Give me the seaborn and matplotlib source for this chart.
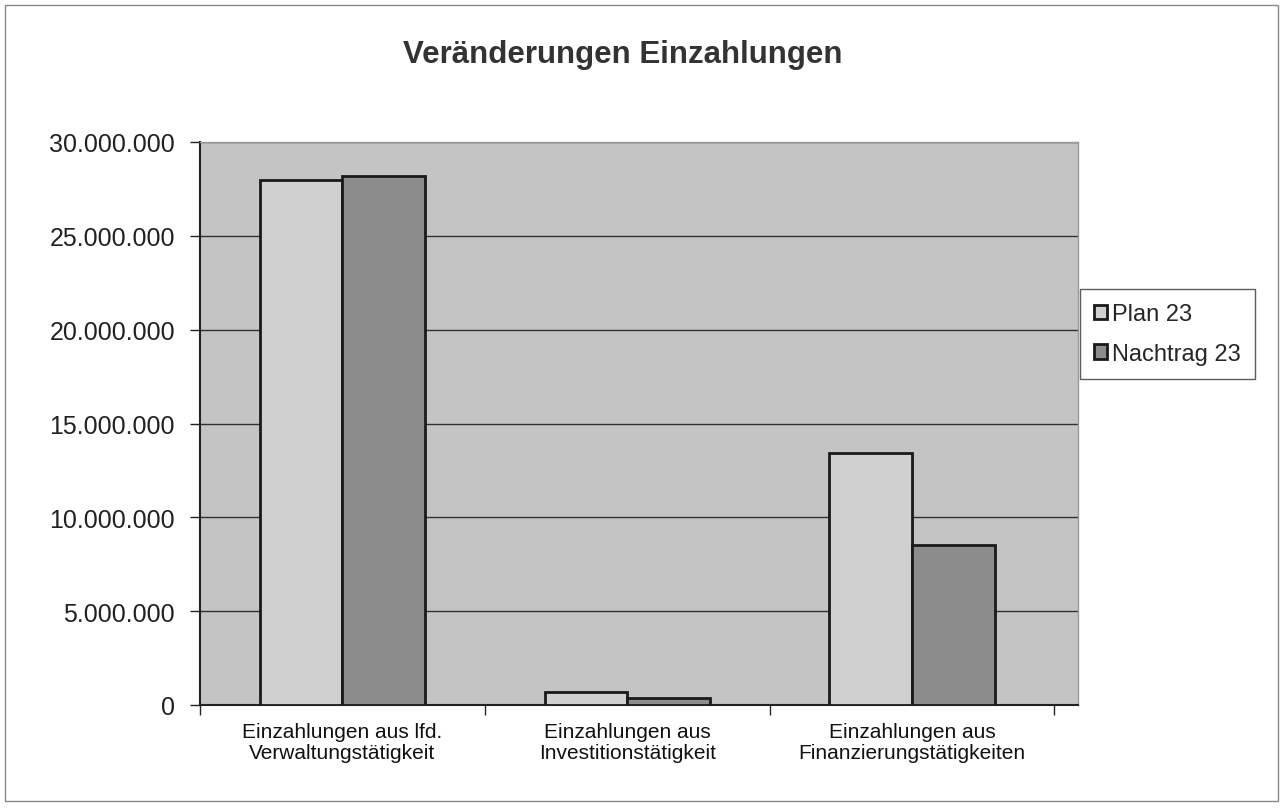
import pandas as pd
import matplotlib.pyplot as plt
import seaborn as sns
from matplotlib.ticker import FuncFormatter, FixedLocator

CATEGORIES = ["Einzahlungen aus lfd.\nVerwaltungstätigkeit",
              "Einzahlungen aus\nInvestitionstätigkeit",
              "Einzahlungen aus\nFinanzierungstätigkeiten"]
SERIES = ["Plan 23", "Nachtrag 23"]
PLAN_23 = [28000000, 700000, 13450000]
NACHTRAG_23 = [28200000, 370000, 8500000]
Y_TICKS = [0, 5000000, 10000000, 15000000, 20000000, 25000000, 30000000]

df = pd.DataFrame({
    "Kategorie": CATEGORIES * 2,
    "Serie": [SERIES[0]] * 3 + [SERIES[1]] * 3,
    "Wert": PLAN_23 + NACHTRAG_23,
})

sns.set_style("white")
plt.rcParams["font.family"] = ["Liberation Sans", "DejaVu Sans"]

fig = plt.figure(figsize=(12.82, 8.12), dpi=100)
ax = fig.add_axes([200 / 1282, 1 - 706 / 812, 878 / 1282, 563 / 812])

sns.barplot(data=df, x="Kategorie", y="Wert", hue="Serie",
            palette=["#d0d0d0", "#8c8c8c"], width=0.58, gap=0,
            edgecolor="#1a1a1a", linewidth=2, ax=ax, zorder=3)

ax.set_facecolor("#c4c4c4")
ax.set_ylim(0, 30000000)
ax.set_xlim(-0.482, 2.583)
ax.yaxis.set_major_locator(FixedLocator(Y_TICKS))
ax.yaxis.set_major_formatter(FuncFormatter(lambda v, p: f"{int(v):,}".replace(",", ".")))
ax.grid(axis="y", color="#303030", linewidth=1, zorder=1)
ax.set_axisbelow(True)
ax.set_xlabel("")
ax.set_ylabel("")

for side in ["top", "right"]:
    ax.spines[side].set_color("#999999")
    ax.spines[side].set_linewidth(1)
for side in ["left", "bottom"]:
    ax.spines[side].set_color("#222222")
    ax.spines[side].set_linewidth(1.5)

ax.tick_params(axis="y", labelsize=18, length=7, width=1, direction="out",
               left=True, colors="#222222", pad=11)
ax.tick_params(axis="x", labelsize=15, length=0, pad=12, colors="#111111")
for lbl in ax.get_xticklabels():
    lbl.set_linespacing(1.15)
ax.set_xticks([-0.5, 0.5, 1.5, 2.5], minor=True)
ax.tick_params(axis="x", which="minor", length=7, width=1, bottom=True, direction="out")

fig.text(623 / 1282, 1 - 55 / 812, "Veränderungen Einzahlungen", fontsize=22.5,
         fontweight="bold", color="#333333", ha="center", va="center")

handles, labels = ax.get_legend_handles_labels()
leg = ax.legend(handles, labels, loc="upper left",
                bbox_to_anchor=(1080 / 1282, 1 - 290 / 812), bbox_transform=fig.transFigure,
                fontsize=17, frameon=True, fancybox=False, edgecolor="#333333",
                handlelength=0.55, handleheight=0.55, handletextpad=0.2,
                borderpad=0.6, borderaxespad=0, labelspacing=0.75)
leg.get_frame().set_linewidth(1)

fig.patches.append(plt.Rectangle((0.004, 0.012), 0.993, 0.98, transform=fig.transFigure,
                                 fill=False, edgecolor="#888888", linewidth=1))

fig.savefig("out.png", dpi=100, facecolor="white")
